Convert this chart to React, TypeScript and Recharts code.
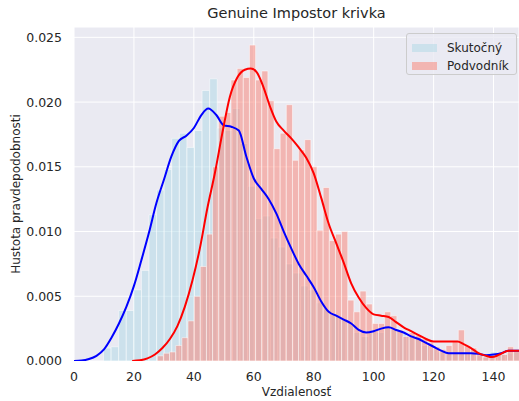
import React from "react";
import {
  ComposedChart,
  Line,
  XAxis,
  YAxis,
  CartesianGrid,
  ReferenceArea,
  Legend,
} from "recharts";

// histogram bins (density)
const GENUINE_BIN_START = 9.85;
const GENUINE_BIN_WIDTH = 2.53;
const genuineHist = [
  0.001, 0.0011, 0.0039, 0.0039, 0.0055, 0.007, 0.0113, 0.0132, 0.0148, 0.0172,
  0.0176, 0.0165, 0.0178, 0.0209, 0.0218, 0.018, 0.0178, 0.0195, 0.0168, 0.0135,
  0.011, 0.0112, 0.0095, 0.0088, 0.0075, 0.0068, 0.0058, 0.0055, 0.0045, 0.004,
  0.0036, 0.0033, 0.003, 0.0022, 0.0019, 0.0024, 0.0022, 0.0026, 0.0025, 0.0022,
  0.002, 0.0017, 0.0012, 0.0009, 0.0007, 0.0007, 0.0006, 0.0007, 0.0006, 0.0004,
  0.0005, 0.0007, 0.0006, 0.0006, 0.0007,
];

const IMPOSTOR_BIN_START = 27.8;
const IMPOSTOR_BIN_WIDTH = 2.05;
const impostorHist = [
  0.0004, 0.0006, 0.0007, 0.0012, 0.0018, 0.0031, 0.005, 0.0073, 0.0098, 0.015,
  0.0189, 0.0192, 0.0217, 0.0226, 0.0219, 0.0244, 0.0217, 0.0224, 0.0201, 0.0164,
  0.0176, 0.0198, 0.0155, 0.0163, 0.0171, 0.015, 0.0101, 0.0134, 0.0093, 0.0098,
  0.01, 0.0047, 0.0038, 0.0054, 0.0044, 0.0029, 0.0029, 0.0038, 0.0035, 0.0024,
  0.0019, 0.0022, 0.002, 0.0017, 0.0014, 0.0011, 0.0009, 0.0012, 0.0015, 0.0024,
  0.0012, 0.001, 0.0006, 0.0003, 0.0003, 0.0005, 0.0005, 0.0011, 0.0008,
];

// KDE curves
const genuineKdeX = [
  0, 2.5, 5, 7.5, 10, 12.5, 15, 17.5, 20, 22.5, 25, 27.5, 30, 32.5, 35, 37.5, 40,
  42.5, 44.8, 47.5, 50, 52.5, 55, 57.5, 60, 62.5, 65, 67.5, 70, 72.5, 75, 77.5, 80,
  82.5, 85, 87.5, 90, 92.5, 95, 97.5, 100, 102.5, 105, 107.5, 110, 112.5, 115,
  117.5, 120, 122.5, 125, 127.5, 130, 132.5, 135, 137.5, 140, 142.5, 145, 148.5,
];
const genuineKdeY = [
  0, 0.00003, 0.00015, 0.0004, 0.0009, 0.0018, 0.0029, 0.0042, 0.0058, 0.0078,
  0.0099, 0.0122, 0.014, 0.0158, 0.017, 0.0174, 0.018, 0.019, 0.0195, 0.019,
  0.0182, 0.0181, 0.0178, 0.0158, 0.0141, 0.0133, 0.0125, 0.0114, 0.01, 0.0087,
  0.0075, 0.0066, 0.0057, 0.0046, 0.0038, 0.0035, 0.0032, 0.0029, 0.0024, 0.0022,
  0.0023, 0.0025, 0.0026, 0.0024, 0.0022, 0.0019, 0.0017, 0.0014, 0.0011, 0.0008,
  0.0006, 0.0006, 0.0006, 0.0006, 0.00055, 0.00045, 0.0005, 0.0006, 0.0008, 0.0008,
];

const impostorKdeX = [
  19.4, 22, 24.5, 27, 29.5, 32, 34.5, 37, 39.5, 42, 44.5, 47, 49.5, 52, 54.5, 57,
  59, 61, 63, 65.5, 67.5, 70, 72.5, 75, 77.5, 80, 82.5, 85, 87.5, 90, 92.5, 95,
  97.5, 100, 102.5, 105, 107.5, 110, 112.5, 115, 117.5, 120, 122.5, 125, 128, 130,
  132.5, 135, 137.5, 139.5, 142, 145, 148.5,
];
const impostorKdeY = [
  0, 0.00005, 0.0002, 0.0005, 0.001, 0.0017, 0.0027, 0.0042, 0.0062, 0.0087,
  0.0118, 0.0145, 0.0176, 0.0204, 0.0219, 0.0225, 0.0226, 0.0223, 0.0213, 0.0196,
  0.0185, 0.0178, 0.0172, 0.0165, 0.0157, 0.0145, 0.0126, 0.0106, 0.0091, 0.0076,
  0.006, 0.0049, 0.0041, 0.0036, 0.0035, 0.0034, 0.003, 0.0026, 0.0023, 0.002,
  0.0017, 0.0015, 0.0015, 0.0015, 0.0015, 0.0013, 0.001, 0.0006, 0.0004, 0.0003,
  0.0005, 0.0008, 0.0008,
];

const X_TICKS = [0, 20, 40, 60, 80, 100, 120, 140];
const Y_TICKS = [0, 0.005, 0.01, 0.015, 0.02, 0.025];

const FONT = "'DejaVu Sans', sans-serif";
const TEXT = "#262626";
const BG = "#EAEAF2";
const GENUINE_FILL = "#add8e6";
const IMPOSTOR_FILL = "#fa8072";

const toBins = (heights: number[], start: number, width: number) =>
  heights.map((h, i) => ({ x0: start + i * width, x1: start + (i + 1) * width, h }));

const toPoints = (xs: number[], ys: number[]) => xs.map((x, i) => ({ x, y: ys[i] }));

const genuineBins = toBins(genuineHist, GENUINE_BIN_START, GENUINE_BIN_WIDTH);
const impostorBins = toBins(impostorHist, IMPOSTOR_BIN_START, IMPOSTOR_BIN_WIDTH);
const genuineKde = toPoints(genuineKdeX, genuineKdeY);
const impostorKde = toPoints(impostorKdeX, impostorKdeY);

const LegendBox = () => (
  <div
    style={{
      boxSizing: "border-box",
      width: 111,
      height: 42,
      background: "rgba(234,234,242,0.8)",
      border: "1px solid #cccccc",
      borderRadius: 3,
      fontFamily: FONT,
      fontSize: 12,
      color: TEXT,
      padding: "5px 0 0 5px",
    }}
  >
    {[
      { name: "Skutočný", fill: GENUINE_FILL },
      { name: "Podvodník", fill: IMPOSTOR_FILL },
    ].map((it) => (
      <div key={it.name} style={{ display: "flex", alignItems: "center", height: 18 }}>
        <span
          style={{
            display: "inline-block",
            width: 25,
            height: 8,
            background: it.fill,
            opacity: 0.5,
            marginRight: 10,
          }}
        />
        <span>{it.name}</span>
      </div>
    ))}
  </div>
);

export default function App() {
  return (
    <div
      style={{ position: "absolute", left: 0, top: 0, width: 519, height: 401, background: "#fff" }}
    >
      <div
        style={{
          position: "absolute",
          left: 74,
          top: 4,
          width: 445,
          textAlign: "center",
          fontFamily: FONT,
          fontSize: 14.5,
          lineHeight: "18px",
          color: TEXT,
        }}
      >
        Genuine Impostor krivka
      </div>
      <ComposedChart width={519} height={401} margin={{ top: 27, right: 0, bottom: 0, left: 0 }}>
        <CartesianGrid fill={BG} stroke="#ffffff" strokeWidth={1} />
        <XAxis
          type="number"
          dataKey="x"
          domain={[0, 148.5]}
          allowDataOverflow
          ticks={X_TICKS}
          height={40}
          axisLine={false}
          tickLine={false}
          tickMargin={5.5}
          tick={{ fontSize: 12.5, fill: TEXT, fontFamily: FONT }}
          label={{
            value: "Vzdialenosť",
            position: "insideBottom",
            offset: 5,
            fill: TEXT,
            fontSize: 12,
            fontFamily: FONT,
          }}
        />
        <YAxis
          type="number"
          domain={[0, 0.0258]}
          allowDataOverflow
          ticks={Y_TICKS}
          width={74}
          axisLine={false}
          tickLine={false}
          tickMargin={6}
          tickFormatter={(v) => Number(v).toFixed(3)}
          tick={{ fontSize: 12.5, fill: TEXT, fontFamily: FONT }}
          label={{
            value: "Hustota pravdepodobnosti",
            angle: -90,
            position: "insideLeft",
            offset: 16,
            fill: TEXT,
            fontSize: 12,
            fontFamily: FONT,
            style: { textAnchor: "middle" },
          }}
        />
        {genuineBins.map((b, i) => (
          <ReferenceArea
            key={`g${i}`}
            x1={b.x0}
            x2={b.x1}
            y1={0}
            y2={b.h}
            ifOverflow="hidden"
            fill={GENUINE_FILL}
            fillOpacity={0.5}
            stroke="#ffffff"
            strokeOpacity={0.5}
            strokeWidth={1}
          />
        ))}
        {impostorBins.map((b, i) => (
          <ReferenceArea
            key={`r${i}`}
            x1={b.x0}
            x2={b.x1}
            y1={0}
            y2={b.h}
            ifOverflow="hidden"
            fill={IMPOSTOR_FILL}
            fillOpacity={0.5}
            stroke="#ffffff"
            strokeOpacity={0.5}
            strokeWidth={1}
          />
        ))}
        <Line
          data={genuineKde}
          dataKey="y"
          type="monotone"
          stroke="#0000ff"
          strokeWidth={2}
          dot={false}
          isAnimationActive={false}
        />
        <Line
          data={impostorKde}
          dataKey="y"
          type="monotone"
          stroke="#ff0000"
          strokeWidth={2}
          dot={false}
          isAnimationActive={false}
        />
        <Legend
          layout="vertical"
          align="center"
          verticalAlign="middle"
          wrapperStyle={{ top: 33, left: 406, width: 111, height: 42 }}
          content={() => <LegendBox />}
        />
      </ComposedChart>
    </div>
  );
}
